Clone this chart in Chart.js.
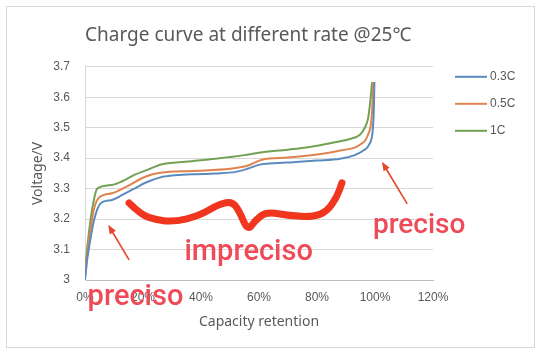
<!DOCTYPE html>
<html>
<head>
<meta charset="utf-8">
<script src="https://cdn.jsdelivr.net/npm/chart.js@4.4.0/dist/chart.umd.min.js"></script>
<style>
  html, body { margin: 0; padding: 0; background: #fff; }
</style>
</head>
<body>
<canvas id="chart" width="541" height="354"></canvas>
<script>
// capacity retention (%) / voltage (V)
const cap03 = [0, 0.8, 1.8, 3.2, 5.5, 9, 13, 17, 21, 26, 30, 37, 45, 52, 56, 60, 65, 72, 80, 88, 93, 96, 98, 99.2, 99.6, 99.8];
const volt03 = [3.00, 3.07, 3.13, 3.20, 3.253, 3.262, 3.28, 3.30, 3.32, 3.337, 3.343, 3.347, 3.35, 3.355, 3.365, 3.378, 3.383, 3.387, 3.392, 3.398, 3.41, 3.425, 3.445, 3.49, 3.56, 3.65];

const cap05 = [0, 0.8, 1.8, 3.0, 4.8, 9.3, 14, 21, 26, 37, 50, 56, 61, 70, 80, 88, 94.8, 97.6, 98.8, 99.2, 99.3];
const volt05 = [3.01, 3.09, 3.16, 3.23, 3.27, 3.285, 3.305, 3.34, 3.352, 3.358, 3.365, 3.375, 3.395, 3.402, 3.412, 3.425, 3.444, 3.477, 3.53, 3.60, 3.65];

const cap1 = [0, 0.8, 1.8, 2.8, 4.2, 9.3, 13, 17, 21, 26.6, 37, 45, 55, 60, 70, 77.5, 85, 91, 94.8, 96.5, 97.6, 98.3, 99];
const volt1 = [3.03, 3.11, 3.19, 3.25, 3.30, 3.312, 3.325, 3.345, 3.36, 3.38, 3.39, 3.398, 3.41, 3.418, 3.428, 3.437, 3.45, 3.462, 3.477, 3.50, 3.53, 3.58, 3.65];

const seriesNames = ["0.3C", "0.5C", "1C"];
const seriesColors = ["#5b8bbd", "#e0834f", "#73a153"];

const xMin = 0, xMax = 120, xStep = 20;
const yMin = 3, yMax = 3.7, yStep = 0.1;

// red hand-drawn notes on top of the chart, in data units
const notes = [
  { text: "preciso", x: 0.9, y: 2.918, size: 29 },
  { text: "impreciso", x: 34.3, y: 3.066, size: 29 },
  { text: "preciso", x: 99.3, y: 3.155, size: 28 }
];
const scribble = [[15.2,3.253],[19.4,3.214],[24.6,3.197],[30.8,3.191],[39.4,3.211],[46.4,3.25],[50.9,3.257],[53.3,3.224],[56.1,3.161],[58.8,3.197],[62.6,3.224],[70.6,3.211],[78.5,3.207],[83.4,3.224],[86.9,3.273],[88.6,3.319]];
const arrows = [
  { from: [15.2, 3.066], to: [8.0, 3.181] },
  { from: [111.1, 3.25], to: [102.4, 3.388] }
];

const toPoints = (xs, ys) => xs.map((v, i) => ({ x: v, y: ys[i] }));
const curves = [toPoints(cap03, volt03), toPoints(cap05, volt05), toPoints(cap1, volt1)];

const grey = "#595959";

const overlay = {
  id: "overlay",
  beforeDraw(chart) {
    const ctx = chart.ctx;
    ctx.save();
    ctx.fillStyle = "#fff";
    ctx.fillRect(0, 0, chart.width, chart.height);
    ctx.strokeStyle = "#d9d9d9";
    ctx.lineWidth = 1;
    ctx.strokeRect(6.5, 6.5, chart.width - 13, chart.height - 13);
    ctx.restore();
  },
  afterDraw(chart) {
    const { ctx, chartArea } = chart;
    const sx = chart.scales.x, sy = chart.scales.y;
    const px = p => [sx.getPixelForValue(p[0]), sy.getPixelForValue(p[1])];
    ctx.save();

    // legend
    ctx.font = "12px 'Liberation Sans'";
    ctx.textBaseline = "middle";
    chart.data.datasets.forEach((ds, i) => {
      const ly = chartArea.top + 10 + i * 27;
      const lx = chartArea.right + 22;
      ctx.strokeStyle = ds.borderColor;
      ctx.lineWidth = 2;
      ctx.beginPath();
      ctx.moveTo(lx, ly);
      ctx.lineTo(lx + 32, ly);
      ctx.stroke();
      ctx.fillStyle = grey;
      ctx.fillText(ds.label, lx + 35, ly);
    });

    // scribble
    const pts = scribble.map(px);
    ctx.strokeStyle = "#f0361e";
    ctx.lineWidth = 7;
    ctx.lineCap = "round";
    ctx.lineJoin = "round";
    ctx.beginPath();
    ctx.moveTo(pts[0][0], pts[0][1]);
    for (let i = 1; i < pts.length - 1; i++) {
      const mx = (pts[i][0] + pts[i + 1][0]) / 2, my = (pts[i][1] + pts[i + 1][1]) / 2;
      ctx.quadraticCurveTo(pts[i][0], pts[i][1], mx, my);
    }
    ctx.lineTo(pts[pts.length - 1][0], pts[pts.length - 1][1]);
    ctx.stroke();

    // arrows
    ctx.strokeStyle = "#e6442c";
    ctx.fillStyle = "#e6442c";
    ctx.lineWidth = 1.6;
    ctx.lineCap = "butt";
    arrows.forEach(a => {
      const [x0, y0] = px(a.from), [x1, y1] = px(a.to);
      const ang = Math.atan2(y1 - y0, x1 - x0);
      ctx.beginPath();
      ctx.moveTo(x0, y0);
      ctx.lineTo(x1 - 6 * Math.cos(ang), y1 - 6 * Math.sin(ang));
      ctx.stroke();
      ctx.beginPath();
      ctx.moveTo(x1, y1);
      ctx.lineTo(x1 - 9 * Math.cos(ang) + 3.5 * Math.sin(ang), y1 - 9 * Math.sin(ang) - 3.5 * Math.cos(ang));
      ctx.lineTo(x1 - 9 * Math.cos(ang) - 3.5 * Math.sin(ang), y1 - 9 * Math.sin(ang) + 3.5 * Math.cos(ang));
      ctx.closePath();
      ctx.fill();
    });

    // notes
    ctx.fillStyle = "#ef4a57";
    ctx.textBaseline = "alphabetic";
    ctx.textAlign = "left";
    notes.forEach(n => {
      const [x, y] = px([n.x, n.y]);
      ctx.font = "500 " + n.size + "px Roboto";
      ctx.fillText(n.text, x, y);
    });
    ctx.restore();
  }
};

new Chart(document.getElementById("chart"), {
  type: "line",
  data: {
    datasets: seriesNames.map((name, i) => ({
      label: name,
      data: curves[i],
      borderColor: seriesColors[i],
      backgroundColor: seriesColors[i],
      borderWidth: 2,
      pointRadius: 0,
      cubicInterpolationMode: "monotone",
      fill: false
    }))
  },
  options: {
    responsive: false,
    animation: false,
    layout: { padding: { left: 10, right: 108, top: 0, bottom: 0 } },
    plugins: {
      legend: { display: false },
      tooltip: { enabled: false },
      title: {
        display: true,
        text: "Charge curve at different rate @25℃",
        align: "start",
        fullSize: false,
        color: grey,
        font: { family: "Noto Sans", size: 19, weight: "normal" },
        padding: { top: 24, bottom: 20 }
      }
    },
    scales: {
      x: {
        type: "linear",
        min: xMin,
        max: xMax,
        ticks: {
          stepSize: xStep,
          padding: 10,
          color: grey,
          font: { family: "Liberation Sans", size: 12 },
          callback: v => v + "%"
        },
        grid: { display: false, drawTicks: false },
        border: { color: "#bfbfbf" },
        title: {
          display: true,
          text: "Capacity retention",
          color: grey,
          font: { family: "Noto Sans", size: 14 },
          padding: { top: 0, bottom: 24 }
        },
        afterFit: s => { s.height = 74; }
      },
      y: {
        min: yMin,
        max: yMax,
        ticks: {
          stepSize: yStep,
          padding: 15,
          color: grey,
          font: { family: "Liberation Sans", size: 12 },
          callback: v => String(+v.toFixed(1))
        },
        grid: { color: "#d9d9d9", drawTicks: false },
        border: { color: "#d9d9d9" },
        title: {
          display: true,
          text: "Voltage/V",
          color: grey,
          font: { family: "Noto Sans", size: 14 },
          padding: { top: 20, bottom: 0 }
        },
        afterFit: s => { s.width = 75; }
      }
    }
  },
  plugins: [overlay]
});
</script>
</body>
</html>
